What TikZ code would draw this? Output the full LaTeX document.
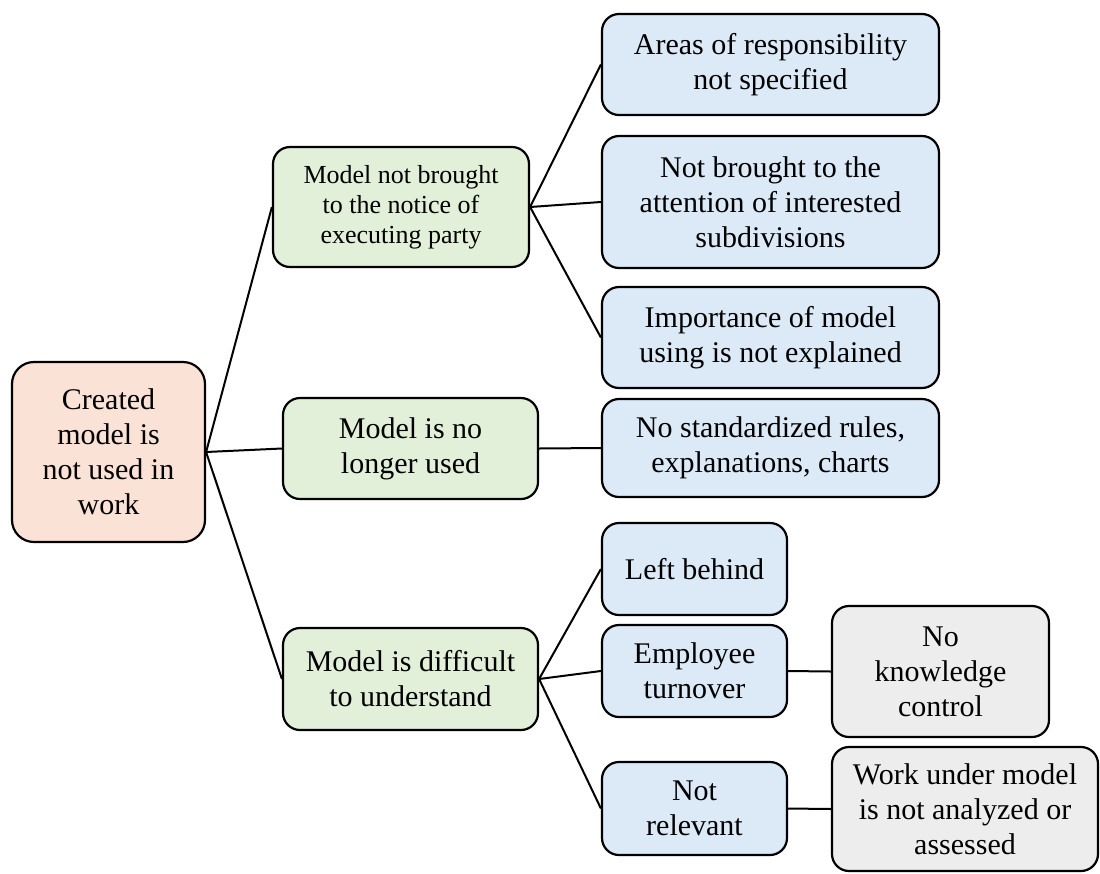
\documentclass[tikz,border=0pt]{standalone}
\usepackage{fontspec}
\setmainfont{Liberation Serif}
\definecolor{rootfill}{HTML}{FBE2D6}
\definecolor{greenfill}{HTML}{E2F0D9}
\definecolor{bluefill}{HTML}{DCEAF7}
\definecolor{grayfill}{HTML}{EDEDED}
\tikzset{
  box/.style={draw=black, line width=2.2pt, rounded corners=17pt, align=center, inner sep=0pt, font=\fontsize{30}{35}\selectfont},
  rootbox/.style={box, fill=rootfill, rounded corners=22pt},
  greenbox/.style={box, fill=greenfill},
  bluebox/.style={box, fill=bluefill},
  graybox/.style={box, fill=grayfill},
  conn/.style={draw=black, line width=2pt}
}
\begin{document}
\begin{tikzpicture}[x=1pt,y=-1pt]
\useasboundingbox (0,0) rectangle (1100,873);
\node[rootbox, minimum width=193pt, minimum height=180pt] (root) at (108.5,452) {Created\\model is\\not used in\\work};
\node[greenbox, minimum width=256pt, minimum height=120pt, font=\fontsize{26}{30}\selectfont] (g1) at (401,207) {Model not brought\\to the notice of\\executing party};
\node[greenbox, minimum width=255pt, minimum height=101pt] (g2) at (410.5,448.5) {Model is no\\longer used};
\node[greenbox, minimum width=255pt, minimum height=102pt] (g3) at (410.5,679) {Model is difficult\\to understand};
\node[bluebox, minimum width=337pt, minimum height=101pt] (b1) at (770.5,64.5) {Areas of responsibility\\not specified};
\node[bluebox, minimum width=337pt, minimum height=132pt] (b2) at (770.5,202) {Not brought to the\\attention of interested\\subdivisions};
\node[bluebox, minimum width=337pt, minimum height=101pt] (b3) at (770.5,337.5) {Importance of model\\using is not explained};
\node[bluebox, minimum width=337pt, minimum height=98pt] (b4) at (770.5,448) {No standardized rules,\\explanations, charts};
\node[bluebox, minimum width=185pt, minimum height=92pt] (b5) at (694.5,569) {Left behind};
\node[bluebox, minimum width=185pt, minimum height=92pt] (b6) at (694.5,671) {Employee\\turnover};
\node[bluebox, minimum width=185pt, minimum height=93pt] (b7) at (694.5,808.5) {Not\\relevant};
\node[graybox, minimum width=217pt, minimum height=131pt] (gr1) at (940.5,671.5) {No\\knowledge\\control};
\node[graybox, minimum width=266pt, minimum height=124pt] (gr2) at (965,809) {Work under model\\is not analyzed or\\assessed};
\draw[conn] (root.east) -- (g1.west);
\draw[conn] (root.east) -- (g2.west);
\draw[conn] (root.east) -- (g3.west);
\draw[conn] (g1.east) -- (b1.west);
\draw[conn] (g1.east) -- (b2.west);
\draw[conn] (g1.east) -- (b3.west);
\draw[conn] (g2.east) -- (b4.west);
\draw[conn] (g3.east) -- (b5.west);
\draw[conn] (g3.east) -- (b6.west);
\draw[conn] (g3.east) -- (b7.west);
\draw[conn] (b6.east) -- (gr1.west);
\draw[conn] (b7.east) -- (gr2.west);
\end{tikzpicture}
\end{document}
